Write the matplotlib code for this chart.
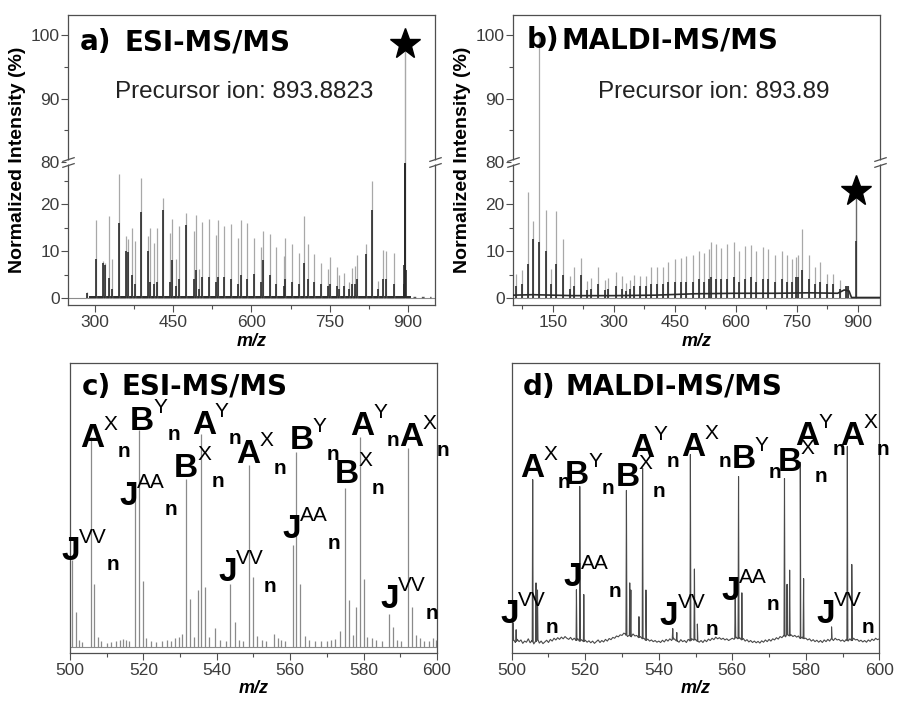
import numpy as np
import matplotlib
matplotlib.use("Agg")
import matplotlib.pyplot as plt
from matplotlib.path import Path
from matplotlib.ticker import FixedLocator, MultipleLocator

plt.rcParams['font.family'] = ['Liberation Sans', 'DejaVu Sans']

# ---------------- data ----------------
# (a) ESI-MS/MS full spectrum: peak m/z, apex intensity (%), dense isotope core (%)
esi_mz = [285, 302, 315, 319, 327, 332, 345, 359, 364, 371,
          376, 388, 402, 406, 413, 419, 431, 444, 448, 456,
          461, 475, 489, 493, 499, 505, 518, 531, 535, 548,
          561, 575, 579, 591, 605, 618, 622, 635, 648, 662,
          665, 678, 691, 701, 708, 720, 734, 746, 750, 764,
          768, 777, 787, 793, 798, 803, 820, 831, 843, 852,
          858, 874]
esi_int = [1.3, 16.6, 7.9, 7.4, 17.5, 8.2, 26.5, 13.2, 12.5, 14.8,
           12.1, 25.5, 13.2, 14.9, 11.8, 14.8, 21.2, 13.9, 16.9, 8.3,
           15.4, 18.0, 14.2, 17.6, 6.2, 16.2, 16.9, 13.5, 16.6, 15.4,
           15.8, 12.7, 16.7, 16.0, 12.7, 10.8, 14.3, 13.6, 10.9, 9.0,
           12.7, 11.4, 9.6, 17.4, 11.5, 9.3, 7.5, 6.1, 8.8, 6.5,
           4.9, 5.4, 3.3, 6.3, 6.9, 9.1, 11.6, 25.0, 3.6, 10.2,
           10.1, 9.6]
esi_core = [1.0, 8.4, 7.5, 7.0, 4.2, 2.0, 16.0, 10.0, 9.8, 4.9,
            3.0, 18.4, 10.0, 3.5, 3.0, 3.5, 18.7, 3.5, 8.0, 2.5,
            4.0, 15.5, 4.0, 6.0, 2.0, 4.5, 4.5, 3.5, 4.5, 4.5,
            4.0, 3.0, 5.0, 4.0, 5.2, 3.5, 8.1, 4.9, 3.0, 2.5,
            4.0, 3.5, 3.0, 7.5, 4.0, 3.5, 3.0, 2.5, 3.0, 2.5,
            2.0, 2.5, 2.0, 3.0, 3.0, 4.0, 9.4, 18.7, 2.0, 4.0,
            4.0, 3.0]
esi_prec_mz = [892.9, 893.4, 893.88, 894.4, 894.9, 895.4, 895.9]
esi_prec_int = [3.0, 7.0, 98.7, 60.0, 35.0, 18.0, 6.0]
esi_prec = 893.8823

# (b) MALDI-MS/MS full spectrum
maldi_mz = [60, 74, 88.5, 101, 115.6, 132, 146, 158, 176, 191,
            203, 220, 234, 244, 262, 277, 285, 304, 320, 329,
            339, 349, 365, 380, 392, 405, 420, 434, 449, 466,
            478, 494, 508, 521, 533, 539, 552, 564, 579, 595,
            607, 623, 636, 650, 666, 680, 695, 712, 725, 738,
            748, 752, 762, 779, 795, 806, 824, 838, 855, 871,
            875]
maldi_int = [5.1, 5.9, 22.6, 16.5, 100.0, 18.8, 6.2, 18.5, 12.6, 4.7,
             6.5, 8.6, 3.6, 4.3, 6.5, 3.8, 4.3, 5.5, 4.6, 3.1,
             3.8, 5.0, 4.6, 4.6, 6.5, 6.5, 6.5, 7.7, 8.2, 8.6,
             8.9, 9.1, 10.0, 9.5, 10.5, 11.9, 11.6, 10.7, 11.6, 11.9,
             10.0, 11.0, 11.2, 9.9, 10.9, 10.5, 9.2, 9.9, 9.2, 8.4,
             8.7, 9.1, 14.7, 9.2, 6.7, 7.7, 5.2, 5.2, 3.8, 2.5,
             2.5]
maldi_core = [2.5, 3.0, 7.3, 12.6, 11.9, 10.0, 3.0, 7.3, 4.9, 2.0,
              2.5, 4.9, 1.8, 2.0, 3.0, 1.8, 2.0, 2.5, 2.0, 1.5,
              2.0, 2.5, 2.5, 2.5, 3.0, 3.0, 3.0, 3.5, 3.5, 3.5,
              3.5, 3.5, 4.0, 3.5, 4.0, 4.5, 4.0, 4.0, 4.0, 4.5,
              3.5, 4.0, 4.5, 3.5, 4.0, 4.0, 3.5, 4.0, 3.5, 3.5,
              4.5, 4.5, 6.0, 4.0, 3.0, 3.5, 3.0, 3.0, 2.0, 2.5,
              2.5]
maldi_base_mz = [52, 100, 200, 300, 400, 500, 600, 700, 780, 850, 866, 878, 884, 954]
maldi_base_int = [0.6, 0.7, 0.5, 0.5, 0.6, 0.9, 1.0, 1.0, 1.1, 1.0, 1.7, 1.5, 0.1, 0.1]
maldi_prec_mz = 893.89
maldi_prec_int = 22.8
maldi_prec_core = 12.1

# (c) ESI-MS/MS zoom 500-600
c_mz = [500.5, 501.6, 502.5, 503.3, 505.6, 506.6, 507.6, 508.5, 510.0, 511.2,
        512.5, 513.5, 514.5, 515.3, 516.2, 517.8, 518.7, 519.8, 520.8, 522.0,
        523.5, 525.0, 526.5, 527.6, 528.7, 529.8, 530.6, 531.7, 532.8, 533.8,
        534.8, 535.8, 536.8, 537.8, 539.6, 541.0, 542.5, 543.7, 544.9, 546.0,
        547.2, 548.7, 549.9, 551.0, 552.3, 553.5, 555.6, 556.6, 557.6, 558.6,
        560.7, 561.7, 562.8, 564.0, 565.2, 566.8, 568.5, 570.0, 571.2, 572.3,
        573.5, 575.0, 576.0, 577.0, 577.9, 579.0, 580.0, 581.0, 582.3, 583.5,
        585.0, 587.0, 588.1, 589.2, 590.3, 592.0, 593.1, 594.2, 595.3, 596.5,
        597.8, 599.0, 599.7]
c_int = [30.6, 12.3, 2.5, 1.8, 74.0, 22.0, 3.5, 2.0, 1.5, 1.8,
         2.2, 2.5, 2.8, 2.5, 2.0, 52.0, 76.5, 23.0, 3.0, 2.0,
         1.8, 2.0, 2.5, 2.2, 3.0, 3.5, 4.5, 59.0, 17.0, 3.5,
         20.0, 75.0, 21.0, 3.5, 6.7, 2.5, 2.0, 22.0, 8.8, 2.5,
         2.0, 64.0, 24.6, 3.9, 2.5, 2.0, 4.5, 3.0, 2.5, 2.0,
         36.0, 68.7, 22.0, 3.9, 2.5, 2.0, 2.2, 2.0, 2.3, 2.8,
         5.5, 56.0, 16.5, 4.0, 14.0, 74.0, 24.0, 3.5, 3.0, 2.5,
         2.0, 11.6, 7.0, 2.5, 2.0, 70.0, 14.0, 4.2, 3.0, 2.0,
         2.2, 3.0, 2.5]

# (d) MALDI-MS/MS zoom 500-600: peaks on a noisy baseline (0.5 m/z steps)
d_mz = [500.4, 501.2, 505.7, 506.6, 507.0, 517.6, 518.5, 519.6, 531.2, 532.1,
        532.4, 534.6, 535.6, 536.5, 543.8, 544.9, 548.6, 549.7, 550.5, 560.8,
        561.7, 562.6, 574.2, 574.9, 575.6, 578.5, 579.4, 587.0, 591.3, 592.5]
d_int = [8.4, 6.0, 58.9, 22.5, 20.0, 20.1, 56.5, 18.4, 55.1, 22.5,
         20.0, 10.6, 63.0, 20.0, 6.4, 5.0, 67.7, 27.4, 8.0, 20.0,
         60.0, 19.0, 59.3, 22.0, 27.0, 65.0, 24.0, 7.0, 70.6, 29.0]
d_noise = [3.0, 2.2, 1.5, 2.6, 1.8, 2.4, 1.2, 2.0, 1.6, 2.8, 1.4, 2.2, 1.0, 1.8, 2.5, 1.3, 2.0, 1.1, 1.7, 2.3,
           1.5, 2.6, 2.0, 3.0, 2.4, 3.2, 2.6, 3.4, 2.8, 3.6, 3.0, 2.6, 3.3, 2.4, 3.0, 2.2, 2.8, 2.0, 2.5, 1.8,
           2.3, 1.6, 2.1, 1.4, 2.0, 1.2, 1.8, 2.4, 1.5, 2.2, 1.7, 2.6, 2.0, 2.9, 2.5, 3.3, 3.0, 3.8, 3.5, 4.2,
           4.0, 4.8, 4.4, 3.6, 4.2, 3.5, 4.5, 3.8, 4.0, 3.2, 3.6, 2.8, 3.0, 2.3, 2.7, 2.0, 2.4, 1.8, 2.2, 1.6,
           2.0, 1.5, 2.3, 1.7, 2.6, 2.0, 2.8, 2.2, 3.0, 2.4, 2.0, 1.6, 2.5, 1.8, 2.2, 1.5, 2.6, 2.0, 2.8, 2.3,
           2.6, 2.0, 1.6, 2.2, 1.5, 2.4, 1.8, 2.7, 2.2, 3.0, 2.5, 3.4, 2.8, 3.2, 2.6, 3.0, 2.4, 2.8, 2.2, 2.6,
           3.0, 2.6, 3.4, 2.8, 3.2, 2.4, 2.9, 2.0, 2.5, 1.7, 2.2, 1.5, 2.0, 1.4, 1.9, 1.3, 2.1, 1.6, 2.4, 1.8,
           2.6, 2.0, 2.8, 2.4, 3.2, 2.7, 3.6, 3.2, 4.0, 3.5, 4.4, 3.8, 4.2, 3.6, 4.0, 3.4, 3.8, 3.0, 3.4, 2.8,
           3.0, 2.4, 2.8, 2.0, 2.5, 1.8, 2.3, 1.6, 2.2, 1.5, 2.4, 1.8, 2.6, 2.0, 2.8, 2.2, 3.0, 2.4, 2.6, 2.0,
           2.4, 1.8, 2.6, 2.0, 2.8, 2.2, 3.0, 2.4, 2.6, 1.9, 2.3, 1.7, 2.2, 1.6, 2.4, 1.9, 2.7, 2.2, 3.0, 2.5, 2.8]

# fragment annotations: (base letter, superscript, m/z anchor, intensity anchor)
c_labels = [("A", "X", 502.9, 70.5), ("B", "Y", 516.4, 76.4), ("B", "X", 528.4, 60.0),
            ("A", "Y", 533.2, 75.0), ("A", "X", 545.4, 64.7), ("B", "Y", 559.9, 69.6),
            ("B", "X", 572.2, 57.6), ("A", "Y", 576.3, 74.6), ("A", "X", 589.7, 70.8),
            ("J", "AA", 513.5, 50.0), ("J", "AA", 557.8, 38.3),
            ("J", "VV", 497.7, 30.6), ("J", "VV", 540.5, 23.0), ("J", "VV", 584.5, 13.6)]
d_labels = [("A", "X", 502.3, 59.8), ("B", "Y", 514.5, 57.5), ("B", "X", 528.3, 56.5),
            ("A", "Y", 532.2, 66.9), ("A", "X", 546.2, 67.1), ("B", "Y", 559.8, 63.0),
            ("B", "X", 572.4, 61.8), ("A", "Y", 577.1, 71.2), ("A", "X", 589.3, 71.2),
            ("J", "AA", 514.0, 21.3), ("J", "AA", 557.1, 16.6),
            ("J", "VV", 496.8, 8.4), ("J", "VV", 540.3, 7.8), ("J", "VV", 582.8, 8.4)]

# ---------------- styling ----------------
SPINE = '#4f4f4f'
TICKC = '#3c3c3c'
LIGHT = '#a8a8a8'
DARK = '#2a2a2a'
TITLE_FONT = 'DejaVu Sans'

fig = plt.figure(figsize=(8.97, 7.02), dpi=100)

# broken intensity axis: 0-28.5 and 80-103 share one axes with a compressed gap
BRK_LO, BRK_HI = 28.5, 80.0
S_LO, S_HI = 4.7, 6.35
_yv = np.array([-1000.0, BRK_LO, BRK_HI, 1000.0])
_yp = np.array([-1000.0 * S_LO, BRK_LO * S_LO, BRK_LO * S_LO + 2.0,
                BRK_LO * S_LO + 2.0 + (1000.0 - BRK_HI) * S_HI])


def fwd(y):
    return np.interp(np.asarray(y, float), _yv, _yp)


def inv(p):
    return np.interp(np.asarray(p, float), _yp, _yv)


slash = Path([(-1, -0.8), (1, -0.15), (-1, 0.15), (1, 0.8)],
             [Path.MOVETO, Path.LINETO, Path.MOVETO, Path.LINETO])


def style_axes(ax):
    for sp in ax.spines.values():
        sp.set_color(SPINE)
        sp.set_linewidth(0.9)
    ax.tick_params(which='both', direction='out', color=SPINE, labelcolor=TICKC,
                   labelsize=12.5, width=0.8)
    ax.tick_params(which='major', length=5, pad=2.5)
    ax.tick_params(which='minor', length=3)


def overview(ax, xlim, xmajor):
    ax.set_yscale('function', functions=(fwd, inv))
    ax.set_xlim(*xlim)
    ax.set_ylim(-1.5, 103.2)
    ax.yaxis.set_major_locator(FixedLocator([0, 10, 20, 80, 90, 100]))
    ax.yaxis.set_minor_locator(FixedLocator([5, 15, 25, 85, 95]))
    ax.xaxis.set_major_locator(MultipleLocator(xmajor))
    ax.xaxis.set_minor_locator(MultipleLocator(xmajor / 2))
    style_axes(ax)
    ax.tick_params(axis='y', which='major', length=5, pad=1)
    ax.axhline(0, color='#8c8c8c', lw=0.8, zorder=1)
    ax.set_ylabel('Normalized Intensity (%)', fontsize=14, fontweight='bold', labelpad=3)
    ax.set_xlabel('m/z', fontsize=13, fontweight='bold', style='italic', labelpad=2)
    tr = ax.get_yaxis_transform()
    ax.plot([0, 1], [BRK_HI, BRK_HI], transform=tr, ls='none', marker='s', ms=3.5,
            mfc='white', mec='none', clip_on=False, zorder=5)
    ax.plot([0, 1], [BRK_HI, BRK_HI], transform=tr, ls='none', marker=slash, ms=9,
            mec=SPINE, mew=0.9, clip_on=False, zorder=6)


def zoom_axes(ax):
    ax.set_xlim(500, 600)
    ax.set_ylim(-2.2, 100)
    ax.xaxis.set_major_locator(MultipleLocator(20))
    ax.xaxis.set_minor_locator(MultipleLocator(10))
    ax.set_yticks([])
    style_axes(ax)
    ax.set_xlabel('m/z', fontsize=13, fontweight='bold', style='italic', labelpad=1)


def panel_title(ax, letter, name, xl, xn, yb):
    kw = dict(transform=ax.transAxes, fontsize=20, fontweight='bold', family=TITLE_FONT,
              ha='left', va='baseline', zorder=10)
    ax.text(xl, yb, letter, **kw)
    ax.text(xn, yb, name, **kw)


def ion_label(ax, base, sup, x, y):
    t = ax.text(x, y, base, fontsize=24, fontweight='bold', ha='left', va='baseline',
                clip_on=False, zorder=8)
    s = ax.annotate(sup, xy=(1, 0), xycoords=t, xytext=(-1, 24), textcoords='offset pixels',
                    fontsize=15, ha='left', va='baseline', zorder=8)
    ax.annotate('n', xy=(1, 0), xycoords=s, xytext=(0, -23.5), textcoords='offset pixels',
                fontsize=15, fontweight='bold', ha='left', va='baseline', zorder=8)


# ---------------- (a) ESI overview ----------------
ax_a = fig.add_axes([0.0758, 0.5655, 0.4091, 0.4131])
overview(ax_a, (248, 952), 150)
ax_a.plot([290, 905], [0.3, 0.3], color=DARK, lw=1.4, zorder=2)
ax_a.plot([910, 945], [0.15, 0.15], color='#555555', lw=1.0, ls=(0, (2, 4)), zorder=2)
ax_a.vlines(esi_mz, 0, esi_int, colors=LIGHT, lw=0.9, zorder=2)
ax_a.vlines(esi_mz, 0, esi_core, colors=DARK, lw=1.2, zorder=3)
ax_a.vlines(esi_prec_mz[2], 0, esi_prec_int[2], colors=LIGHT, lw=1.0, zorder=2)
ax_a.vlines(esi_prec_mz, 0, np.minimum(esi_prec_int, 60), colors=DARK, lw=1.2, zorder=3)
ax_a.plot(esi_prec_mz[2], esi_prec_int[2], marker='*', ms=23, color='black', zorder=7)
panel_title(ax_a, 'a)', 'ESI-MS/MS', 0.033, 0.155, 0.879)
ax_a.text(0.128, 0.713, f'Precursor ion: {esi_prec}', transform=ax_a.transAxes,
          fontsize=17.5, color='#222222', ha='left', va='baseline')

# ---------------- (b) MALDI overview ----------------
ax_b = fig.add_axes([0.5719, 0.5655, 0.4091, 0.4131])
overview(ax_b, (52, 954), 150)
ax_b.plot(maldi_base_mz, maldi_base_int, color=DARK, lw=1.2, zorder=3)
ax_b.vlines(maldi_mz, 0, maldi_int, colors=LIGHT, lw=0.9, zorder=2)
ax_b.vlines(maldi_mz, 0, maldi_core, colors=DARK, lw=1.2, zorder=3)
ax_b.vlines(maldi_prec_mz, 0, maldi_prec_int, colors='#6a6a6a', lw=1.0, zorder=2)
ax_b.vlines(maldi_prec_mz, 0, maldi_prec_core, colors=DARK, lw=1.1, zorder=3)
ax_b.plot(maldi_prec_mz, maldi_prec_int, marker='*', ms=23, color='black', zorder=7)
panel_title(ax_b, 'b)', 'MALDI-MS/MS', 0.037, 0.1327, 0.886)
ax_b.text(0.2316, 0.713, f'Precursor ion: {maldi_prec_mz}', transform=ax_b.transAxes,
          fontsize=17.5, color='#222222', ha='left', va='baseline')

# ---------------- (c) ESI zoom ----------------
ax_c = fig.add_axes([0.0780, 0.0698, 0.4092, 0.4131])
zoom_axes(ax_c)
ax_c.axhline(0, color='#8c8c8c', lw=0.8, zorder=1)
ax_c.vlines(c_mz, 0, c_int, colors='#8a8a8a', lw=0.9, zorder=2)
panel_title(ax_c, 'c)', 'ESI-MS/MS', 0.032, 0.141, 0.890)
for base, sup, x, y in c_labels:
    ion_label(ax_c, base, sup, x, y)

# ---------------- (d) MALDI zoom ----------------
ax_d = fig.add_axes([0.5705, 0.0698, 0.4098, 0.4131])
zoom_axes(ax_d)
noise_x = np.linspace(500, 600, len(d_noise))
pk = np.asarray(d_mz)
pk_base = np.interp(pk, noise_x, d_noise)
px = np.concatenate([noise_x, pk - 0.13, pk, pk + 0.13])
py = np.concatenate([d_noise, pk_base, d_int, pk_base])
order = np.argsort(px, kind='stable')
ax_d.plot(px[order], py[order], color='#4a4a4a', lw=0.8, zorder=2)
panel_title(ax_d, 'd)', 'MALDI-MS/MS', 0.030, 0.145, 0.891)
for base, sup, x, y in d_labels:
    ion_label(ax_d, base, sup, x, y)

fig.savefig('out.png', dpi=100)
